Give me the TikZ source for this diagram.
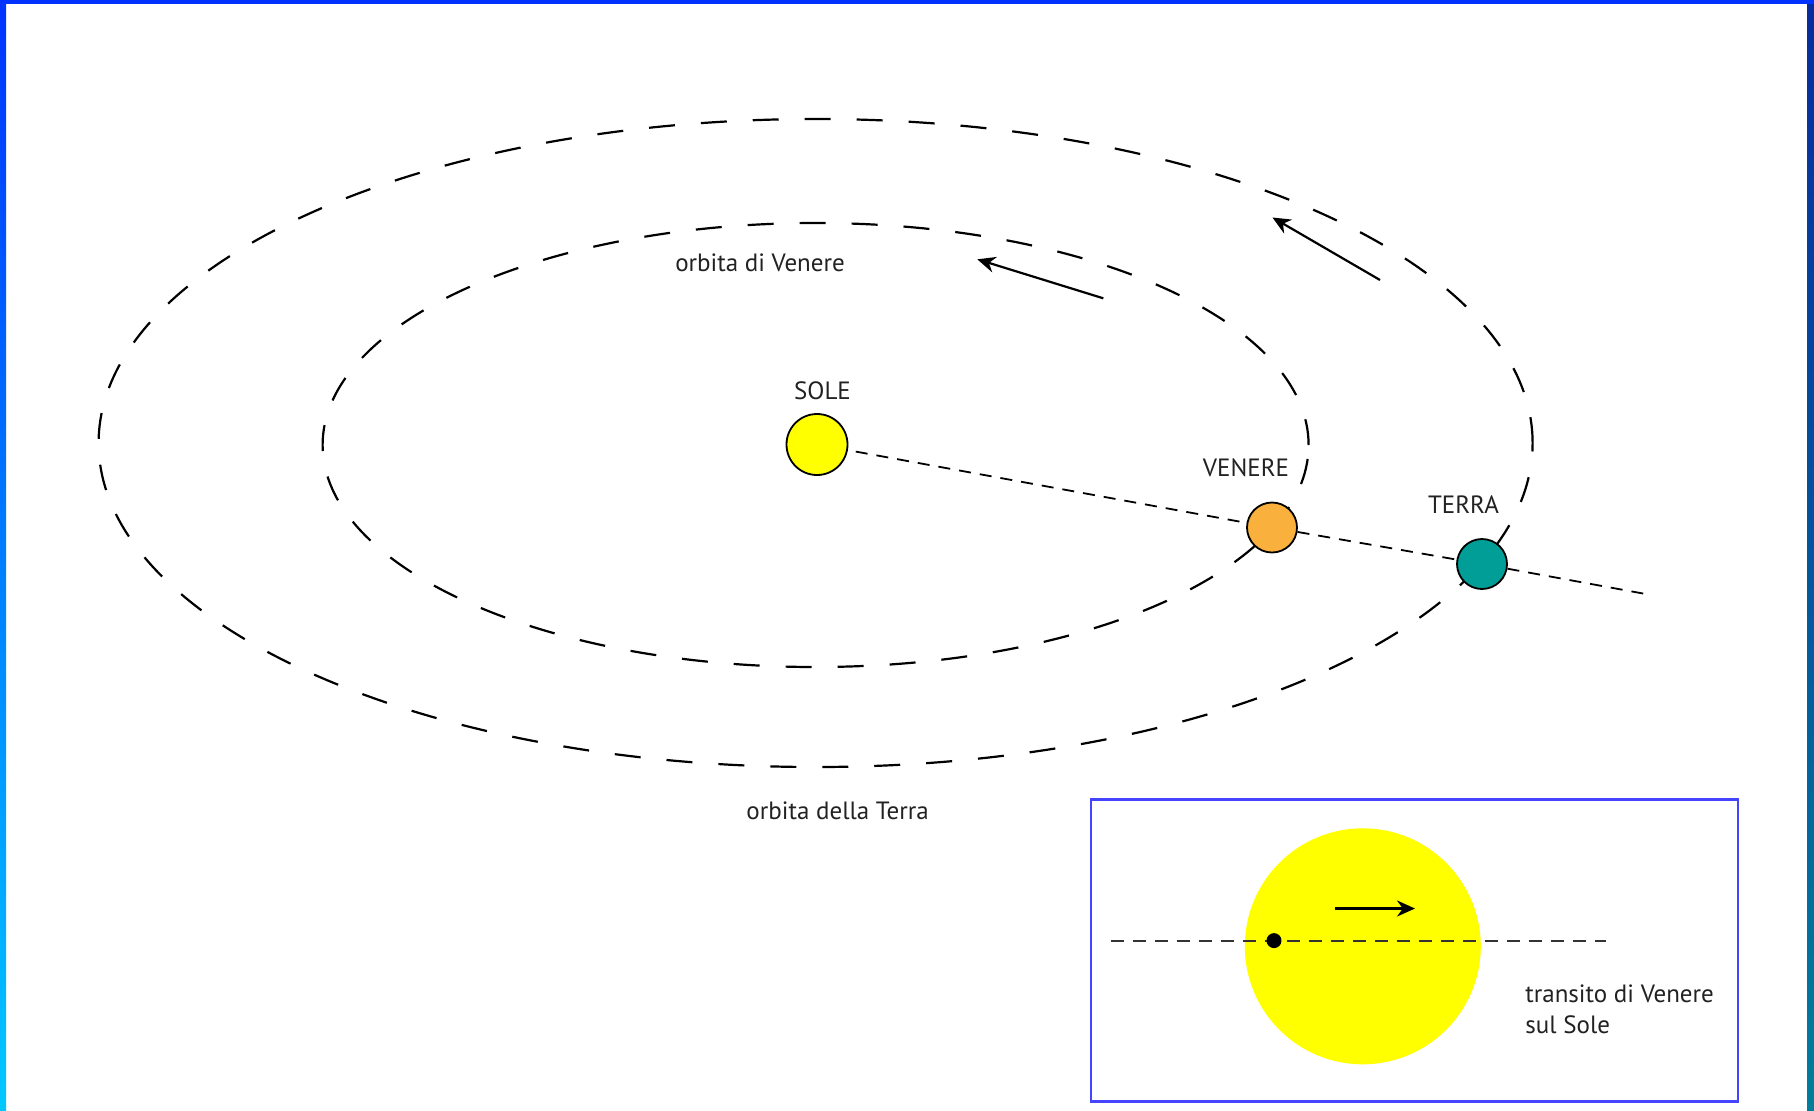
\documentclass[tikz,border=0pt]{standalone}
\usepackage{fontspec}
\setmainfont{PT Sans}
\usetikzlibrary{arrows.meta}
\definecolor{barblue}{HTML}{0033FF}
\definecolor{barcyan}{HTML}{00C8FF}
\definecolor{rdark}{HTML}{082C9E}
\definecolor{rteal}{HTML}{007E9C}
\definecolor{sunyellow}{HTML}{FFFF00}
\definecolor{venorange}{HTML}{F9B03C}
\definecolor{earthteal}{HTML}{009E96}
\definecolor{insetblue}{HTML}{4444FF}
\definecolor{txt}{HTML}{222222}
\tikzset{
  orbitline/.style={line width=1.1pt, dash pattern=on 13pt off 13pt},
  sunline/.style={line width=0.9pt, dash pattern=on 6pt off 4.5pt},
  planet/.style={circle, draw=black, line width=0.9pt, inner sep=0pt, minimum size=25pt},
  lbl/.style={text=txt, font=\fontsize{12.5}{14}\selectfont, inner sep=0pt},
  motion/.style={line width=1.1pt, -{Stealth[length=9pt,width=8pt]}}
}
\begin{document}
\begin{tikzpicture}[x=0.5pt,y=-0.5pt]
\useasboundingbox (0,0) rectangle (1814,1110);
\fill[white] (0,0) rectangle (1814,1110);
% frame bars
\shade[top color=barblue, bottom color=barcyan] (0,0) rectangle (6,1110);
\shade[top color=rdark, bottom color=rteal] (1807,0) rectangle (1814,1110);
\fill[barblue] (0,0) rectangle (1814,4);
% orbits
\draw[orbitline] (815.6,443) ellipse [x radius=358.5pt, y radius=162pt];
\draw[orbitline] (815.6,445) ellipse [x radius=246.5pt, y radius=111pt];
% bodies
\node[planet, fill=sunyellow, minimum size=30.5pt] (sun) at (817,444.5) {};
\node[planet, fill=venorange] (venus) at (1272,527.5) {};
\node[planet, fill=earthteal] (earth) at (1482,564) {};
\coordinate (lineend) at (1649,594.6);
\draw[sunline, shorten <=4pt] (sun) -- (venus);
\draw[sunline] (venus) -- (earth);
\draw[sunline] (earth) -- (lineend);
% labels
\node[lbl] (lsun) at (822.5,391) {SOLE};
\node[lbl] (lven) at (1246,467.4) {VENERE};
\node[lbl] (lter) at (1463.5,504.4) {TERRA};
\node[lbl] (lov) at (760,262.6) {orbita di Venere};
\node[lbl] (lot) at (837.6,811) {orbita della Terra};
% motion arrows
\coordinate (a1s) at (1103.3,298.3);
\coordinate (a1e) at (977.3,259.3);
\draw[motion] (a1s) -- (a1e);
\coordinate (a2s) at (1380,280);
\coordinate (a2e) at (1272.5,217.5);
\draw[motion] (a2s) -- (a2e);
% inset
\node[draw=insetblue, line width=1.1pt, minimum width=323.5pt, minimum height=151pt, inner sep=0pt] (inset) at (1414.5,950.5) {};
\fill[sunyellow] (1362.8,946.3) circle [radius=59pt];
\coordinate (tl) at (1110.6,940.6);
\coordinate (tr) at (1605.8,940.6);
\draw[line width=0.9pt, dash pattern=on 6.5pt off 4.5pt, black!80] (tl) -- (tr);
\node[circle, fill=black, inner sep=0pt, minimum size=7.5pt] (vdot) at (1274,940.6) {};
\coordinate (a3s) at (1335,908.5);
\coordinate (a3e) at (1415,908.5);
\draw[motion] (a3s) -- (a3e);
\node[lbl, align=left, anchor=north west, font=\fontsize{12.5}{15.5}\selectfont] (ltr) at (1525,984) {transito di Venere\\sul Sole};
\end{tikzpicture}
\end{document}
